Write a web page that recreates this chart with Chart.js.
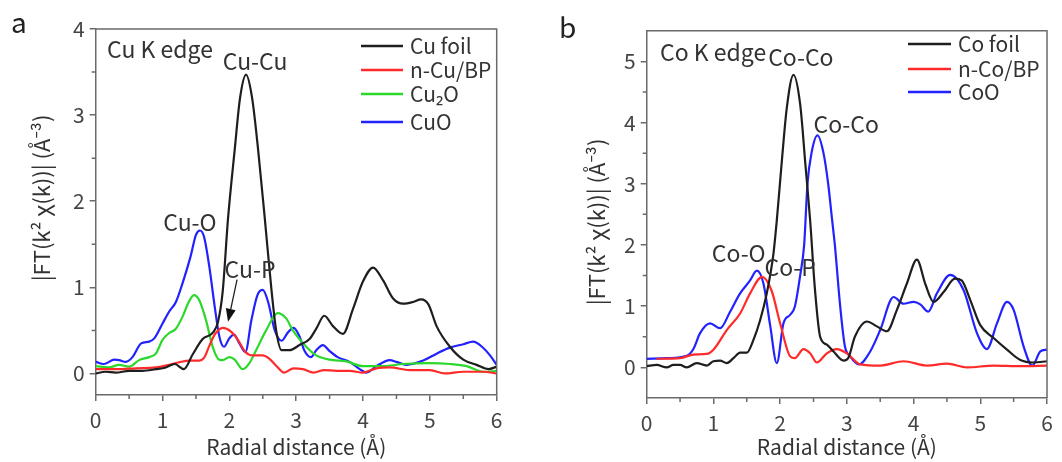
<!DOCTYPE html>
<html>
<head>
<meta charset="utf-8">
<script src="https://cdn.jsdelivr.net/npm/chart.js@4.4.0/dist/chart.umd.min.js"></script>
<style>
    body { margin: 0; background: #fff; }
    #wrap { position: relative; width: 1062px; height: 462px; }
    #chart-cu { position: absolute; left: 0; top: 0; }
    #chart-co { position: absolute; left: 530px; top: 0; }
</style>
</head>
<body>
<div id="wrap">
    <canvas id="chart-cu" width="530" height="462"></canvas>
    <canvas id="chart-co" width="532" height="462"></canvas>
</div>
<script>
// Cu K edge: R (Å) and |FT| for each sample
cu_foil_r = [0, 0.15, 0.3, 0.5, 0.7, 0.9, 1.05, 1.18, 1.32, 1.45, 1.6, 1.76, 1.83, 1.9, 1.98, 2.08, 2.16, 2.25, 2.34, 2.43,
    2.53, 2.63, 2.7, 2.78, 2.9, 3.05, 3.2, 3.3, 3.42, 3.55, 3.7, 3.85, 4.0, 4.15, 4.3, 4.45, 4.6, 4.75, 4.87, 4.98,
    5.1, 5.3, 5.5, 5.7, 5.88, 6.0]
cu_foil = [0.0, 0.02, 0.01, 0.03, 0.03, 0.05, 0.07, 0.11, 0.05, 0.22, 0.40, 0.48, 0.60, 0.95, 1.8, 2.6, 3.2, 3.47, 3.2, 2.6,
    1.8, 0.97, 0.5, 0.27, 0.27, 0.33, 0.4, 0.52, 0.67, 0.55, 0.46, 0.75, 1.07, 1.23, 1.08, 0.87, 0.81, 0.83, 0.86, 0.80,
    0.55, 0.31, 0.16, 0.10, 0.05, 0.08]

n_cu_r = [0, 0.3, 0.6, 0.9, 1.1, 1.25, 1.4, 1.55, 1.62, 1.7, 1.78, 1.9, 2.02, 2.12, 2.24, 2.35, 2.5, 2.6, 2.7, 2.82,
    2.96, 3.1, 3.26, 3.42, 3.6, 3.8, 4.0, 4.2, 4.4, 4.7, 5.0, 5.22, 5.5, 5.8, 6.0]
n_cu = [0.05, 0.05, 0.06, 0.07, 0.10, 0.13, 0.15, 0.15, 0.18, 0.32, 0.45, 0.53, 0.49, 0.40, 0.25, 0.21, 0.21, 0.17, 0.09, 0.01,
    0.06, 0.05, 0.01, 0.04, 0.03, 0.03, 0.01, 0.06, 0.07, 0.04, 0.04, 0.0, 0.02, 0.02, 0.0]

cu2o_r = [0, 0.2, 0.35, 0.5, 0.65, 0.8, 0.9, 1.0, 1.1, 1.2, 1.3, 1.38, 1.47, 1.55, 1.65, 1.75, 1.85, 1.9, 2.0, 2.08,
    2.2, 2.3, 2.4, 2.55, 2.72, 2.85, 2.95, 3.15, 3.3, 3.5, 3.75, 4.0, 4.3, 4.6, 5.0, 5.3, 5.55, 5.8, 6.0]
cu2o = [0.085, 0.07, 0.1, 0.08, 0.155, 0.19, 0.23, 0.39, 0.47, 0.52, 0.66, 0.81, 0.91, 0.85, 0.62, 0.31, 0.16, 0.155, 0.19, 0.16,
    0.05, 0.12, 0.27, 0.5, 0.70, 0.64, 0.5, 0.31, 0.21, 0.16, 0.14, 0.085, 0.085, 0.11, 0.12, 0.11, 0.085, 0.02, 0.03]

cuo_r = [0, 0.12, 0.28, 0.35, 0.45, 0.55, 0.68, 0.8, 0.88, 1.0, 1.1, 1.2, 1.3, 1.42, 1.5, 1.56, 1.62, 1.7, 1.78, 1.85,
    1.92, 2.0, 2.07, 2.15, 2.24, 2.33, 2.42, 2.5, 2.58, 2.68, 2.78, 2.88, 2.96, 3.05, 3.12, 3.22, 3.3, 3.4, 3.5, 3.62,
    3.8, 3.95, 4.05, 4.2, 4.4, 4.5, 4.65, 4.9, 5.1, 5.3, 5.5, 5.65, 5.78, 5.9, 6.0]
cuo = [0.135, 0.11, 0.16, 0.155, 0.135, 0.19, 0.35, 0.37, 0.41, 0.58, 0.72, 0.83, 1.05, 1.36, 1.61, 1.66, 1.59, 1.24, 0.78, 0.43,
    0.31, 0.41, 0.45, 0.35, 0.25, 0.62, 0.91, 0.97, 0.83, 0.5, 0.38, 0.48, 0.53, 0.43, 0.27, 0.19, 0.27, 0.33, 0.26, 0.19,
    0.135, 0.05, 0.01, 0.085, 0.155, 0.135, 0.1, 0.15, 0.23, 0.3, 0.34, 0.37, 0.31, 0.21, 0.1]

// Co K edge
co_foil_r = [0, 0.15, 0.3, 0.4, 0.5, 0.6, 0.75, 0.9, 1.0, 1.1, 1.2, 1.3, 1.4, 1.5, 1.6, 1.7, 1.8, 1.9, 1.95, 2.02,
    2.1, 2.2, 2.3, 2.38, 2.45, 2.52, 2.6, 2.7, 2.8, 2.95, 3.02, 3.12, 3.3, 3.45, 3.6, 3.75, 3.9, 4.05, 4.18, 4.3,
    4.45, 4.62, 4.72, 4.85, 5.0, 5.2, 5.4, 5.6, 5.8, 6.0]
co_foil = [0.02, 0.04, 0.0, 0.04, 0.04, 0.0, 0.07, 0.03, 0.1, 0.11, 0.07, 0.15, 0.24, 0.24, 0.45, 0.77, 1.21, 1.86, 2.4, 3.3,
    4.24, 4.78, 4.3, 3.3, 2.4, 1.3, 0.5, 0.37, 0.26, 0.11, 0.15, 0.5, 0.75, 0.67, 0.59, 0.94, 1.37, 1.76, 1.35, 1.07,
    1.23, 1.45, 1.42, 1.1, 0.69, 0.48, 0.29, 0.12, 0.08, 0.1]

n_co_r = [0.15, 0.5, 0.7, 0.9, 1.0, 1.2, 1.4, 1.55, 1.73, 1.87, 2.0, 2.15, 2.22, 2.35, 2.45, 2.55, 2.7, 2.85, 3.0, 3.2,
    3.5, 3.85, 4.2, 4.5, 4.8, 5.2, 5.6, 6.0]
n_co = [0.14, 0.15, 0.21, 0.22, 0.29, 0.61, 0.88, 1.21, 1.48, 1.26, 0.72, 0.18, 0.15, 0.3, 0.23, 0.08, 0.23, 0.3, 0.23, 0.05,
    0.03, 0.1, 0.03, 0.06, 0.0, 0.03, 0.02, 0.03]

coo_r = [0, 0.3, 0.6, 0.7, 0.8, 0.95, 1.1, 1.25, 1.4, 1.55, 1.65, 1.75, 1.85, 1.95, 2.05, 2.15, 2.22, 2.3, 2.36, 2.41,
    2.47, 2.56, 2.65, 2.72, 2.78, 2.82, 2.9, 2.97, 3.05, 3.18, 3.35, 3.5, 3.7, 3.85, 4.0, 4.1, 4.22, 4.35, 4.55, 4.75,
    4.95, 5.1, 5.25, 5.4, 5.5, 5.65, 5.78, 5.9, 6.0]
coo = [0.14, 0.15, 0.19, 0.3, 0.56, 0.72, 0.64, 0.91, 1.21, 1.42, 1.58, 1.37, 0.69, 0.07, 0.72, 0.86, 0.99, 1.5, 2.0, 3.0,
    3.5, 3.79, 3.5, 3.0, 2.4, 2.0, 1.0, 0.35, 0.18, 0.05, 0.26, 0.61, 1.15, 1.04, 1.07, 1.03, 0.91, 1.21, 1.51, 1.26,
    0.56, 0.3, 0.72, 1.07, 0.94, 0.34, 0.03, 0.26, 0.29]

x_ticks = [0, 1, 2, 3, 4, 5, 6]
x_minor = [0.5, 1.5, 2.5, 3.5, 4.5, 5.5]
cu_y_ticks = [0, 1, 2, 3, 4]
cu_y_minor = [0.5, 1.5, 2.5, 3.5]
co_y_ticks = [0, 1, 2, 3, 4, 5]
co_y_minor = [0.5, 1.5, 2.5, 3.5, 4.5]

line_black = '#1e1e1e'
line_red = '#ff2b2b'
line_green = '#2cd82c'
line_blue = '#2222ff'
axis_color = '#6a6a6a'
text_color = '#333'
font_family = "'Noto Sans CJK SC', 'Noto Sans', sans-serif"

function to_points(r, y) {
    return r.map((v, i) => ({x: v, y: y[i]}))
}

function make_dataset(label, r, y, color) {
    return {
        label: label,
        data: to_points(r, y),
        borderColor: color,
        borderWidth: 2.2,
        pointRadius: 0,
        fill: false,
        cubicInterpolationMode: 'monotone'
    }
}

// frame, minor ticks, rotated y title, inline legend, peak labels and arrow
const panel_plugin = {
    id: 'panel',
    afterDraw(chart, args, opts) {
        const ctx = chart.ctx
        const area = chart.chartArea
        const xs = chart.scales.x
        const ys = chart.scales.y
        ctx.save()

        ctx.strokeStyle = axis_color
        ctx.lineWidth = 1.5
        ctx.beginPath()
        ctx.moveTo(area.left, area.top)
        ctx.lineTo(area.right, area.top)
        ctx.lineTo(area.right, area.bottom)
        ctx.stroke()

        ctx.beginPath()
        opts.minor_x.forEach(v => {
            const px = xs.getPixelForValue(v)
            ctx.moveTo(px, area.bottom)
            ctx.lineTo(px, area.bottom + 4)
        })
        opts.minor_y.forEach(v => {
            const py = ys.getPixelForValue(v)
            ctx.moveTo(area.left - 4, py)
            ctx.lineTo(area.left, py)
        })
        ctx.stroke()

        ctx.fillStyle = text_color
        ctx.font = '22px ' + font_family
        ctx.textAlign = 'center'
        ctx.textBaseline = 'middle'
        ctx.save()
        ctx.translate(opts.y_title_pos[0], opts.y_title_pos[1])
        ctx.rotate(-Math.PI / 2)
        ctx.fillText('|FT(k² χ(k))| (Å⁻³)', 0, 0)
        ctx.restore()

        ctx.textAlign = 'left'
        ctx.font = '21px ' + font_family
        chart.data.datasets.forEach((ds, i) => {
            const row = opts.legend.rows[i]
            ctx.strokeStyle = ds.borderColor
            ctx.lineWidth = 2.5
            ctx.beginPath()
            ctx.moveTo(opts.legend.x1, row)
            ctx.lineTo(opts.legend.x2, row)
            ctx.stroke()
            ctx.fillStyle = text_color
            ctx.fillText(ds.label, opts.legend.text_x, row)
        })

        ctx.font = '23px ' + font_family
        opts.notes.forEach(n => {
            ctx.textAlign = n.align || 'center'
            ctx.fillText(n.text, xs.getPixelForValue(n.x), ys.getPixelForValue(n.y))
        })

        if (opts.arrow) {
            const a = opts.arrow
            const x1 = xs.getPixelForValue(a.from[0]), y1 = ys.getPixelForValue(a.from[1])
            const x2 = xs.getPixelForValue(a.to[0]), y2 = ys.getPixelForValue(a.to[1])
            const ang = Math.atan2(y2 - y1, x2 - x1)
            const head = 13
            ctx.strokeStyle = '#222'
            ctx.fillStyle = '#111'
            ctx.lineWidth = 1.3
            ctx.beginPath()
            ctx.moveTo(x1, y1)
            ctx.lineTo(x2 - head * Math.cos(ang), y2 - head * Math.sin(ang))
            ctx.stroke()
            ctx.beginPath()
            ctx.moveTo(x2, y2)
            ctx.lineTo(x2 - head * Math.cos(ang) + 5 * Math.sin(ang), y2 - head * Math.sin(ang) - 5 * Math.cos(ang))
            ctx.lineTo(x2 - head * Math.cos(ang) - 5 * Math.sin(ang), y2 - head * Math.sin(ang) + 5 * Math.cos(ang))
            ctx.closePath()
            ctx.fill()
        }

        ctx.fillStyle = '#222'
        ctx.textAlign = 'left'
        ctx.textBaseline = 'alphabetic'
        ctx.font = '28px ' + font_family
        ctx.fillText(opts.letter, opts.letter_pos[0], opts.letter_pos[1])
        ctx.restore()
    }
}

function make_chart(canvas_id, datasets, y_min, y_max, y_ticks, panel, box) {
    return new Chart(
        document.getElementById(canvas_id).getContext('2d'), {
            type: 'line',
            data: {datasets: datasets},
            plugins: [panel_plugin],
            options: {
                responsive: false,
                animation: false,
                devicePixelRatio: 1,
                layout: {
                    padding: {left: 0, right: box.right, top: box.top, bottom: 0}
                },
                plugins: {
                    legend: {display: false},
                    tooltip: {enabled: false},
                    panel: panel
                },
                scales: {
                    x: {
                        type: 'linear',
                        min: 0,
                        max: 6,
                        afterBuildTicks: s => { s.ticks = x_ticks.map(v => ({value: v})) },
                        afterFit: s => { s.height = box.x_height },
                        ticks: {
                            color: '#444',
                            padding: 6,
                            font: {family: font_family, size: 21}
                        },
                        grid: {
                            drawOnChartArea: false,
                            drawTicks: true,
                            tickLength: 6,
                            color: axis_color,
                            lineWidth: 1.5
                        },
                        border: {color: axis_color, width: 1.5},
                        title: {
                            display: true,
                            text: 'Radial distance (Å)',
                            color: text_color,
                            padding: {top: 0, bottom: 2},
                            font: {family: font_family, size: 21}
                        }
                    },
                    y: {
                        type: 'linear',
                        min: y_min,
                        max: y_max,
                        afterBuildTicks: s => { s.ticks = y_ticks.map(v => ({value: v})) },
                        afterFit: s => { s.width = box.y_width },
                        ticks: {
                            color: '#444',
                            padding: 5,
                            font: {family: font_family, size: 21}
                        },
                        grid: {
                            drawOnChartArea: false,
                            drawTicks: true,
                            tickLength: 6,
                            color: axis_color,
                            lineWidth: 1.5
                        },
                        border: {color: axis_color, width: 1.5}
                    }
                }
            }
        })
}

cu_chart = make_chart('chart-cu', [
    make_dataset('Cu foil', cu_foil_r, cu_foil, line_black),
    make_dataset('n-Cu/BP', n_cu_r, n_cu, line_red),
    make_dataset('Cu₂O', cu2o_r, cu2o, line_green),
    make_dataset('CuO', cuo_r, cuo, line_blue)
], -0.25, 4, cu_y_ticks, {
    letter: 'a',
    letter_pos: [11, 33],
    y_title_pos: [42, 198],
    minor_x: x_minor,
    minor_y: cu_y_minor,
    legend: {x1: 361, x2: 403, text_x: 410, rows: [46, 70, 94, 122]},
    notes: [
        {text: 'Cu K edge', x: 0.17, y: 3.76, align: 'left'},
        {text: 'Cu-Cu', x: 2.385, y: 3.62},
        {text: 'Cu-O', x: 1.41, y: 1.76},
        {text: 'Cu-P', x: 2.31, y: 1.21}
    ],
    arrow: {from: [2.115, 1.09], to: [1.98, 0.6]}
}, {right: 33.3, top: 29, x_height: 67, y_width: 95.7})

co_chart = make_chart('chart-co', [
    make_dataset('Co foil', co_foil_r, co_foil, line_black),
    make_dataset('n-Co/BP', n_co_r, n_co, line_red),
    make_dataset('CoO', coo_r, coo, line_blue)
], -0.5, 5.5, co_y_ticks, {
    letter: 'b',
    letter_pos: [29, 38],
    y_title_pos: [67, 222],
    minor_x: x_minor,
    minor_y: co_y_minor,
    legend: {x1: 378, x2: 421, text_x: 428, rows: [44, 69, 92]},
    notes: [
        {text: 'Co K edge', x: 0.2, y: 5.14, align: 'left'},
        {text: 'Co-Co', x: 2.31, y: 5.07},
        {text: 'Co-Co', x: 2.99, y: 3.97},
        {text: 'Co-O', x: 1.38, y: 1.87},
        {text: 'Co-P', x: 2.15, y: 1.64}
    ]
}, {right: 15, top: 30.7, x_height: 64, y_width: 116.7})
</script>
</body>
</html>
